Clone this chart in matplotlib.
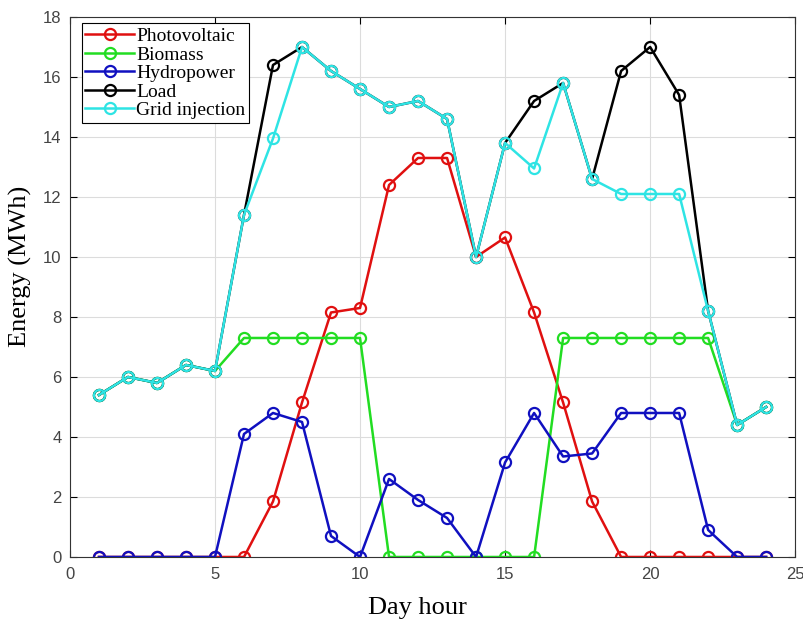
import matplotlib
matplotlib.use("Agg")
import matplotlib.pyplot as plt

hours = list(range(1, 25))
photovoltaic = [0, 0, 0, 0, 0, 0, 1.85, 5.15, 8.15, 8.3, 12.4, 13.3, 13.3, 10.0,
                10.65, 8.15, 5.15, 1.85, 0, 0, 0, 0, 0, 0]
biomass = [5.4, 6.0, 5.8, 6.4, 6.2, 7.3, 7.3, 7.3, 7.3, 7.3, 0, 0, 0, 0,
           0, 0, 7.3, 7.3, 7.3, 7.3, 7.3, 7.3, 4.4, 5.0]
hydropower = [0, 0, 0, 0, 0, 4.1, 4.8, 4.5, 0.7, 0, 2.6, 1.9, 1.3, 0,
              3.15, 4.8, 3.35, 3.45, 4.8, 4.8, 4.8, 0.9, 0, 0]
load = [5.4, 6.0, 5.8, 6.4, 6.2, 11.4, 16.4, 17.0, 16.2, 15.6, 15.0, 15.2, 14.6, 10.0,
        13.8, 15.2, 15.8, 12.6, 16.2, 17.0, 15.4, 8.2, 4.4, 5.0]
grid_injection = [5.4, 6.0, 5.8, 6.4, 6.2, 11.4, 13.95, 17.0, 16.2, 15.6, 15.0, 15.2, 14.6, 10.0,
                  13.8, 12.95, 15.8, 12.6, 12.1, 12.1, 12.1, 8.2, 4.4, 5.0]

series = [("Photovoltaic", photovoltaic, "#e01010"),
          ("Biomass", biomass, "#22dd22"),
          ("Hydropower", hydropower, "#1010c0"),
          ("Load", load, "#000000"),
          ("Grid injection", grid_injection, "#2ee4e4")]

fig = plt.figure(figsize=(8.04, 6.29), dpi=100)
ax = fig.add_axes([0.087, 0.1145, 0.902, 0.8585])

for name, vals, col in series:
    ax.plot(hours, vals, color=col, lw=1.8, marker="o", ms=8, mfc="none",
            mew=1.6, label=name)

ax.set_xlim(0, 25)
ax.set_ylim(0, 18)
ax.set_xticks(range(0, 26, 5))
ax.set_yticks(range(0, 19, 2))
ax.grid(True, color="#dcdcdc", lw=0.8)
ax.set_axisbelow(True)
ax.tick_params(direction="in", labelsize=12, length=5, top=True, right=True,
               labelcolor="#444444")
ax.tick_params(axis="x", pad=7)
ax.tick_params(axis="y", pad=6)
for lab in ax.get_xticklabels() + ax.get_yticklabels():
    lab.set_family("Liberation Sans")
for s in ax.spines.values():
    s.set_color("#333333")

ax.set_xlabel("Day hour", family="Liberation Serif", fontsize=19)
ax.xaxis.set_label_coords(0.479, -0.075)
ax.set_ylabel("Energy (MWh)", family="Liberation Serif", fontsize=19)
ax.yaxis.set_label_coords(-0.053, 0.539)

leg = ax.legend(loc="upper left", bbox_to_anchor=(0.016, 0.988), borderaxespad=0,
                prop={"family": "Liberation Serif", "size": 14},
                fancybox=False, framealpha=1, edgecolor="black", borderpad=0.2,
                labelspacing=0.05, handlelength=2.5, handletextpad=0.1)
leg.get_frame().set_linewidth(0.8)

fig.savefig("out.png", dpi=100)
